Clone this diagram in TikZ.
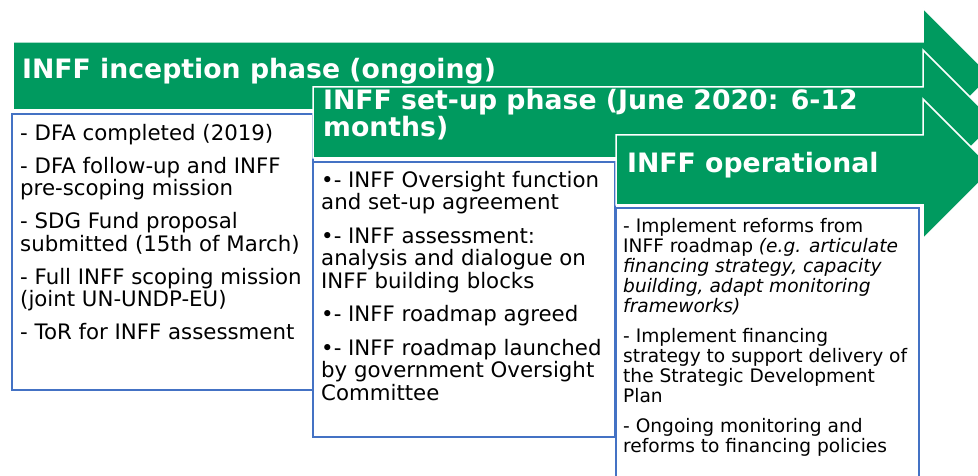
\documentclass[tikz,border=0pt]{standalone}
\usepackage{fontspec}
\setmainfont{DejaVu Sans}[BoldFont={DejaVu Sans Bold},ItalicFont={DejaVu Sans Oblique}]
\definecolor{inffgreen}{RGB}{0,154,95}
\definecolor{inffblue}{RGB}{68,114,196}

\begin{document}
\begin{tikzpicture}[
  x=1pt, y=-1pt,
  phase/.style={fill=inffgreen, draw=white, line width=1.5pt},
  listbox/.style={draw=inffblue, fill=white, line width=2.2pt},
  every node/.style={anchor=base west, inner sep=0pt, align=left},
  title/.style={text=white, font=\bfseries\fontsize{26.7}{27}\selectfont},
  items/.style={font=\fontsize{21.3}{22.5}\selectfont},
  smallitems/.style={font=\fontsize{18.6}{20}\selectfont}
]
\useasboundingbox (0,0) rectangle (978,476);

\fill[phase] (13,42) -- (923,42) -- (923,8) -- (991,76) -- (923,144) -- (923,110) -- (13,110) -- cycle;
\draw[listbox] (12,114) rectangle (313,390);
\fill[phase] (313,87) -- (923,87) -- (923,50) -- (995.5,122.5) -- (923,195) -- (923,158) -- (313,158) -- cycle;
\draw[listbox] (313,162) rectangle (615,437);
\fill[phase] (616,135) -- (923,135) -- (923,99) -- (993,169) -- (923,239) -- (923,205) -- (616,205) -- cycle;
\draw[listbox] (616,208) rectangle (919,490);

% multi-line nodes sit on the baseline of their last line
\node (inception) [title] at (22,79) {INFF inception phase (ongoing)};
\node (setup) [title] at (323,137) {INFF set-up phase (June 2020: 6-12\\months)};
\node (operational) [title] at (627,173) {INFF operational};

\node (inceptionlist) [items] at (20,339.5) {- DFA completed (2019)\\[10.5pt]
- DFA follow-up and INFF\\pre-scoping mission\\[10.5pt]
- SDG Fund proposal\\submitted (15th of March)\\[10.5pt]
- Full INFF scoping mission\\(joint UN-UNDP-EU)\\[10.5pt]
- ToR for INFF assessment};
\node (setuplist) [items] at (321,400) {•- INFF Oversight function\\and set-up agreement\\[11pt]
•- INFF assessment:\\analysis and dialogue on\\INFF building blocks\\[11pt]
•- INFF roadmap agreed\\[11pt]
•- INFF roadmap launched\\by government Oversight\\Committee};
\node (operationallist) [smallitems] at (623,452) {- Implement reforms from\\INFF roadmap \textit{(e.g. articulate}\\\textit{financing strategy, capacity}\\\textit{building, adapt monitoring}\\\textit{frameworks)}\\[10pt]
- Implement financing\\strategy to support delivery of\\the Strategic Development\\Plan\\[10pt]
- Ongoing monitoring and\\reforms to financing policies};
\end{tikzpicture}
\end{document}
